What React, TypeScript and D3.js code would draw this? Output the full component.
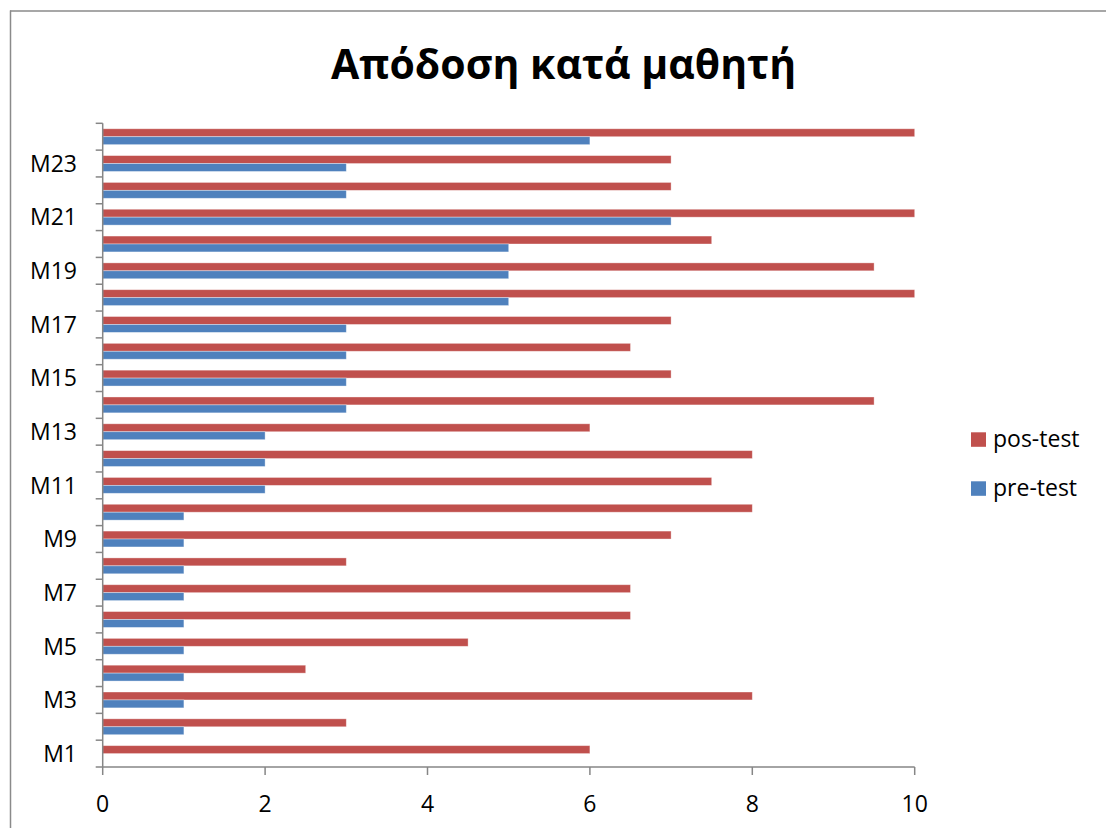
import React from "react";
import * as d3 from "d3";

const categories = Array.from({ length: 24 }, (_, i) => `M${i + 1}`);
const preTest = [0, 1, 1, 1, 1, 1, 1, 1, 1, 1, 2, 2, 2, 3, 3, 3, 3, 5, 5, 5, 7, 3, 3, 6];
const posTest = [6, 3, 8, 2.5, 4.5, 6.5, 6.5, 3, 7, 8, 7.5, 8, 6, 9.5, 7, 6.5, 7, 10, 9.5, 7.5, 10, 7, 7, 10];
const xTicks = [0, 2, 4, 6, 8, 10];
const seriesNames = ["pos-test", "pre-test"];
const seriesColors = ["#C0504D", "#4F81BD"];
const title = "Απόδοση κατά μαθητή";

const W = 1106;
const H = 828;
const FONT = "'Open Sans', 'Noto Sans', sans-serif";

export default function App() {
  const left = 102.7;
  const right = 914.7;
  const top = 123.3;
  const bottom = 767;

  const x = d3.scaleLinear().domain([0, 10]).range([left, right]);
  const y = d3
    .scaleBand<string>()
    .domain([...categories].reverse())
    .range([top, bottom])
    .padding(0);
  const inner = d3
    .scaleBand<string>()
    .domain(seriesNames)
    .range([0, y.bandwidth()])
    .paddingInner(0)
    .paddingOuter(0.69);

  const values: Record<string, number[]> = { "pos-test": posTest, "pre-test": preTest };
  const axisColor = "#868686";

  const boundaries = d3.range(categories.length + 1).map((i) => top + i * y.step());

  return (
    <svg
      width={W}
      height={H}
      style={{ position: "absolute", left: 0, top: 0, background: "#fff" }}
      fontFamily={FONT}
    >
      <rect x={0} y={0} width={W} height={H} fill="#fff" />
      {/* chart border */}
      <line x1={10} x2={W} y1={11} y2={11} stroke="#8a8a8a" strokeWidth={1.5} />
      <line x1={10.5} x2={10.5} y1={10.5} y2={H} stroke="#8a8a8a" strokeWidth={1.5} />

      <text x={563.5} y={79} textAnchor="middle" fontSize={41} fontWeight={700} fill="#000">
        {title}
      </text>

      {/* bars */}
      {seriesNames.map((s, si) =>
        categories.map((c, ci) => {
          const v = values[s][ci];
          if (!v) return null;
          return (
            <rect
              key={s + c}
              x={x(0)}
              y={(y(c) as number) + (inner(s) as number)}
              width={x(v) - x(0)}
              height={inner.bandwidth()}
              fill={seriesColors[si]}
              stroke="rgba(255,255,255,0.45)"
              strokeWidth={0.8}
            />
          );
        })
      )}

      {/* y axis */}
      <line x1={left} x2={left} y1={top} y2={bottom} stroke={axisColor} strokeWidth={1.5} />
      {boundaries.map((b, i) => (
        <line key={"yt" + i} x1={left - 7} x2={left} y1={b} y2={b} stroke={axisColor} strokeWidth={1.5} />
      ))}
      {categories.map((c, i) =>
        i % 2 === 0 ? (
          <text
            key={"yl" + c}
            x={77}
            y={(y(c) as number) + y.bandwidth() / 2 + 8.3}
            textAnchor="end"
            fontSize={23}
            fill="#000"
          >
            {c}
          </text>
        ) : null
      )}

      {/* x axis */}
      <line x1={left} x2={right} y1={bottom} y2={bottom} stroke={axisColor} strokeWidth={1.5} />
      {xTicks.map((t) => (
        <g key={"xt" + t}>
          <line x1={x(t)} x2={x(t)} y1={bottom} y2={bottom + 8} stroke={axisColor} strokeWidth={1.5} />
          <text x={x(t)} y={811.5} textAnchor="middle" fontSize={23} fill="#000">
            {t}
          </text>
        </g>
      ))}

      {/* legend */}
      {seriesNames.map((s, i) => (
        <g key={"lg" + s}>
          <rect x={971} y={432.3 + i * 49} width={15} height={14.5} fill={seriesColors[i]} />
          <text x={993} y={446.5 + i * 49} fontSize={23} fill="#000">
            {s}
          </text>
        </g>
      ))}
    </svg>
  );
}
